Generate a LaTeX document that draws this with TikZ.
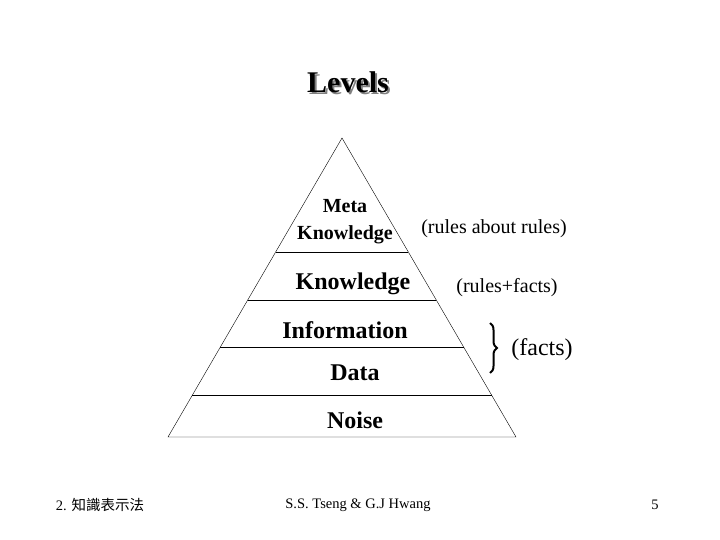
\documentclass[tikz,border=0pt]{standalone}
\usepackage{fontspec}
\setmainfont{Liberation Serif}
\newfontfamily\cjk{Noto Sans CJK TC}
\usetikzlibrary{decorations.pathreplacing,calc}
\begin{document}
\begin{tikzpicture}[x=1pt,y=-1pt,
  lvl/.style={font=\bfseries\fontsize{24}{26}\selectfont,inner sep=0pt},
  ann/.style={font=\fontsize{20}{22}\selectfont,inner sep=0pt},
  foot/.style={font=\fontsize{14.5}{16}\selectfont,inner sep=0pt}]
\useasboundingbox (0,0) rectangle (720,540);
\coordinate (A) at (342,138);
\coordinate (L) at (168,437);
\coordinate (R) at (516,437);
\draw (A) -- (L) -- (R) -- cycle;
\foreach \y in {252,300,347,395}{
  \draw ($(A)!{(\y-138)/299}!(L)$) -- ($(A)!{(\y-138)/299}!(R)$);
}
\node[font=\bfseries\fontsize{30}{32}\selectfont,text=gray,inner sep=0pt] at (350,84) {Levels};
\node[font=\bfseries\fontsize{30}{32}\selectfont,inner sep=0pt] (title) at (348,82) {Levels};
\node[lvl,font=\bfseries\fontsize{20}{27}\selectfont,align=center] (meta) at (345,222) {Meta\\Knowledge};
\node[lvl] (know) at (353,284) {Knowledge};
\node[lvl] (info) at (345,330) {Information};
\node[lvl] (data) at (355,373) {Data};
\node[lvl] (noise) at (355,420) {Noise};
\node[ann] (r1) at (494,229) {(rules about rules)};
\node[ann] (r2) at (507,288) {(rules+facts)};
\node[ann,font=\fontsize{24}{26}\selectfont] (r3) at (542,350) {(facts)};
\coordinate (b1) at (490,323);
\coordinate (b2) at (490,373);
\draw[line width=2pt,decorate,decoration={brace,amplitude=7pt}] (b1) -- (b2);
\node[foot] (f1) at (100,505) {2. {\cjk 知識表示法}};
\node[foot] (f2) at (358,505) {S.S. Tseng \& G.J Hwang};
\node[foot] (f3) at (655,505) {5};
\end{tikzpicture}
\end{document}
